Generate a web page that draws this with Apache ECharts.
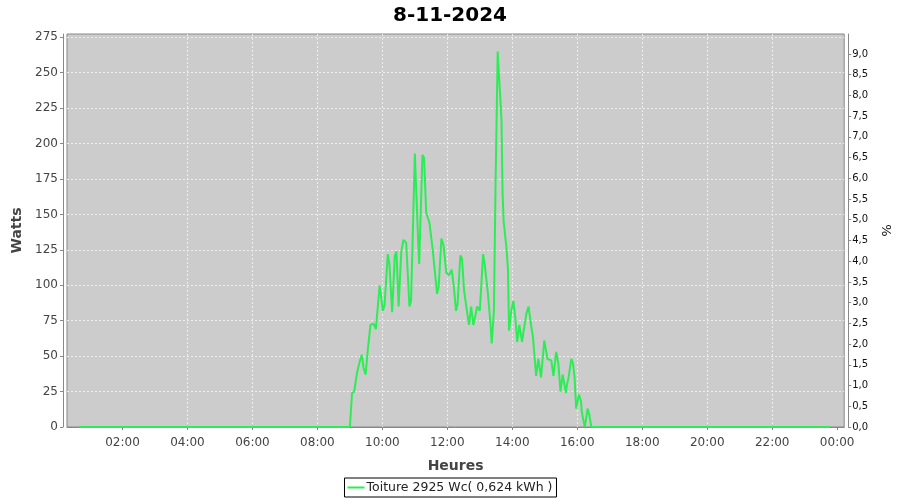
<!DOCTYPE html>
<html>
<head>
<meta charset="utf-8">
<script src="https://cdn.jsdelivr.net/npm/echarts@6/dist/echarts.min.js"></script>
<style>html,body{margin:0;padding:0;background:#fff}#c{width:900px;height:500px}</style>
</head>
<body>
<div id="c"></div>
<script>
// ---- data ----
const title = "8-11-2024";
const seriesName = "Toiture 2925 Wc( 0,624 kWh )";
const peakWc = 2925;
const times = ["00:40","02:00","04:00","06:00","08:00","08:55",
"09:00","09:04","09:08","09:13","09:18","09:22","09:25","09:29","09:33","09:38","09:44","09:48","09:50","09:55","09:58",
"10:01","10:04","10:10","10:13","10:18","10:23","10:26","10:30","10:35","10:39","10:44","10:50","10:53",
"11:00","11:06","11:08","11:14","11:17","11:21","11:27","11:33","11:41","11:44","11:49","11:53","11:58",
"12:03","12:08","12:12","12:16","12:19","12:24","12:27","12:31","12:35","12:40","12:44","12:48","12:52","12:55",
"13:00","13:06","13:09","13:15","13:20","13:22","13:26","13:29","13:33","13:36","13:40","13:42","13:44","13:49","13:52","13:54","13:58",
"14:02","14:06","14:09","14:13","14:18","14:21","14:26","14:30","14:35","14:38","14:41","14:44","14:48","14:53","14:59",
"15:05","15:12","15:16","15:21","15:25","15:29","15:33","15:39","15:41","15:44","15:49","15:52","15:55","15:58",
"16:03","16:07","16:08","16:10","16:14","16:19","16:22","16:26","18:00","20:00","22:00","23:47"];
const watts = [0,0,0,0,0,0,
0,24,25,38,46,51,42,37,54,72,73,69,78,100,99,
82,86,122,115,81,121,124,85,124,132,130,85,89,
193,132,115,192,190,151,144,125,94,99,133,128,109,
107,111,99,82,87,121,119,96,85,72,85,72,79,85,
82,122,115,94,71,59,82,170,265,264,217,165,145,127,111,68,82,
89,75,60,72,60,68,80,85,71,64,50,36,48,35,61,
48,47,36,53,45,25,37,24,30,35,48,45,35,13,
23,18,12,7,0,13,9,0,0,0,0,0];
const xTickLabels = ["02:00","04:00","06:00","08:00","10:00","12:00","14:00","16:00","18:00","20:00","22:00","00:00"];

// ---- build ----
function toMin(s){const p=s.split(":");return (+p[0])*60+(+p[1]);}
const pts = times.map((t,i)=>[toMin(t), watts[i]]);
const tickVals = xTickLabels.map((s,i)=>(i+1)*120);
const wMax = 277.3;
const pMax = wMax / peakWc * 100;
const font = "DejaVu Sans";
const lineColor = '#2ced55';

const chart = echarts.init(document.getElementById('c'), null, {renderer:'canvas'});
chart.setOption({
  animation:false,
  backgroundColor:'#ffffff',
  textStyle:{fontFamily:font},
  title:{text:title,left:'center',top:1,textStyle:{fontFamily:font,fontSize:20,fontWeight:'bold',color:'#000'}},
  grid:{left:67,right:55,top:34,bottom:73,show:true,backgroundColor:'#cccccc',borderColor:'#888888',borderWidth:1},
  legend:{bottom:3,left:'center',data:[{name:seriesName,icon:'rect'}],borderColor:'#000',borderWidth:1,borderRadius:0,padding:[3,4,3,3],
    itemWidth:17,itemHeight:2,itemGap:2,itemStyle:{color:lineColor},
    textStyle:{fontFamily:font,fontSize:12.5,color:'#222',padding:[0,0,0,-3]}},
  xAxis:{type:'value',min:17.5,max:1453,offset:4,
    name:'Heures',nameLocation:'middle',nameGap:28,nameTextStyle:{fontFamily:font,fontSize:14,fontWeight:'bold',color:'#444'},
    axisLine:{show:true,lineStyle:{color:'#888'}},
    axisTick:{show:true,length:3,customValues:tickVals,lineStyle:{color:'#888'}},
    axisLabel:{customValues:tickVals,fontFamily:font,fontSize:12,color:'#444',margin:6,
      formatter:function(v){const h=Math.floor(v/60)%24,m=v%60;return (h<10?'0':'')+h+':'+(m<10?'0':'')+m;}},
    splitLine:{show:true,showMinLine:false,showMaxLine:false,lineStyle:{color:'#eeeeee',type:[2,2],width:1}}
  },
  yAxis:[
    {type:'value',min:0,max:wMax,interval:25,offset:4,
      name:'Watts',nameLocation:'middle',nameGap:37,nameTextStyle:{fontFamily:font,fontSize:14,fontWeight:'bold',color:'#444'},
      axisLine:{show:true,lineStyle:{color:'#888'}},axisTick:{show:true,length:3,lineStyle:{color:'#888'}},
      axisLabel:{fontFamily:font,fontSize:12,color:'#444',margin:5,showMaxLabel:false},
      splitLine:{show:true,showMinLine:false,showMaxLine:false,lineStyle:{color:'#eeeeee',type:[2,2],width:1}}},
    {type:'value',min:0,max:pMax,interval:0.5,offset:4,position:'right',
      name:'%',nameLocation:'middle',nameGap:27,nameRotate:-90,nameTextStyle:{fontFamily:font,fontSize:13,color:'#111'},
      axisLine:{show:true,lineStyle:{color:'#888'}},axisTick:{show:true,length:3,lineStyle:{color:'#888'}},
      axisLabel:{fontFamily:font,fontSize:10,color:'#111',margin:4,showMaxLabel:false,
        formatter:function(v){return v.toFixed(1).replace('.',',');}},
      splitLine:{show:false}}
  ],
  series:[{name:seriesName,type:'line',data:pts,yAxisIndex:0,symbol:'none',
    lineStyle:{color:lineColor,width:2},itemStyle:{color:lineColor}}]
});
</script>
</body>
</html>
